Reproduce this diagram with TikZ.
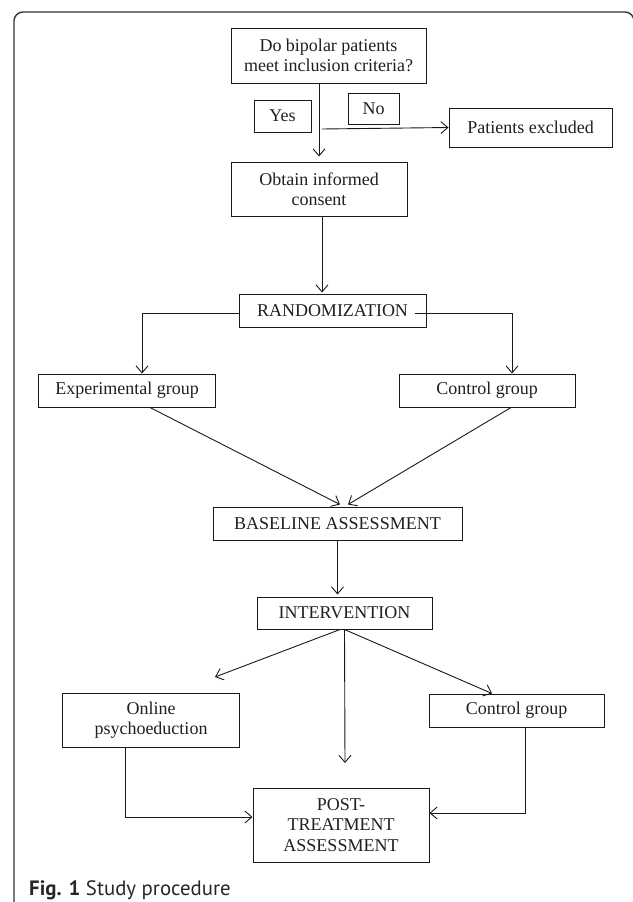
\documentclass[tikz,border=0pt]{standalone}
\usepackage{fontspec}
\setmainfont{Liberation Serif}
\newfontfamily\capfont{PT Sans}
\usetikzlibrary{arrows.meta}
\begin{document}
\begin{tikzpicture}[x=1bp,y=-1bp,
  box/.style={draw=black!90,line width=1bp,inner sep=0pt,align=center,
    font=\fontsize{18bp}{20.5bp}\selectfont,text=black!88},
  conn/.style={line width=0.9bp,draw=black!90,
    -{Straight Barb[length=7bp,width=12bp,line width=0.9bp]}},
  plain/.style={line width=0.9bp,draw=black!90}]
\useasboundingbox (0,0) rectangle (633,902);
% frame
\begin{scope}
\clip (0,0) rectangle (633,902);
\draw[line width=1.4bp,black!80,rounded corners=9bp] (14,920) -- (14,12) -- (634,12) -- (634,920);
\end{scope}
% nodes
\node[box,minimum width=195bp,minimum height=55bp] (q) at (328.5,55.5) {Do bipolar patients\\meet inclusion criteria?};
\node[box,minimum width=57bp,minimum height=32bp] (yes) at (282.5,116) {Yes};
\node[box,minimum width=51bp,minimum height=31bp] (no) at (373.5,108.5) {No};
\node[box,minimum width=163bp,minimum height=39bp] (excl) at (530.5,127.5) {Patients excluded};
\node[box,minimum width=176bp,minimum height=54bp] (consent) at (319,189) {Obtain informed\\consent};
\node[box,minimum width=187bp,minimum height=33bp] (rand) at (332.5,310.5) {RANDOMIZATION};
\node[box,minimum width=176bp,minimum height=33bp] (exp) at (127,390.5) {Experimental group};
\node[box,minimum width=176bp,minimum height=33bp] (ctla) at (487,390.5) {Control group};
\node[box,minimum width=249bp,minimum height=33bp] (base) at (337.5,523.5) {BASELINE ASSESSMENT};
\node[box,minimum width=175bp,minimum height=32bp] (interv) at (344.5,613) {INTERVENTION};
\node[box,minimum width=176bp,minimum height=54bp] (online) at (151,720) {Online\\psychoeduction};
\node[box,minimum width=175bp,minimum height=33bp] (ctlb) at (516.5,710.5) {Control group};
\node[box,minimum width=176bp,minimum height=74bp] (post) at (341,825) {POST-\\TREATMENT\\ASSESSMENT};
\node[anchor=base west,inner sep=0pt,font=\capfont\fontsize{20.8bp}{24bp}\selectfont,text=black!85] (cap) at (29,895) {\textbf{Fig. 1} Study procedure};
% free ends
\coordinate (nostart) at (322,129);
\coordinate (tipon) at (215,677);
\coordinate (tippost) at (345,763);
% connectors
\draw[conn] (q.south -| consent) -- ([yshift=5bp]consent.north);
\draw[conn] (nostart) -- (excl.west);
\draw[conn] ([xshift=3bp]consent.south) -- ([xshift=3bp,yshift=1bp]consent.south |- rand.north);
\draw[conn] ([yshift=-2.5bp]rand.west) -| ([xshift=15bp]exp.north);
\draw[conn] ([xshift=-12bp,yshift=-2.5bp]rand.east) -| ([xshift=25bp]ctla.north);
\draw[conn] ([xshift=23bp]exp.south) -- ([xshift=2.5bp,yshift=2bp]base.north);
\draw[conn] ([xshift=24bp]ctla.south) -- ([xshift=10.5bp,yshift=2bp]base.north);
\draw[conn] (base.south) -- ([yshift=2bp]base.south |- interv.north);
\draw[conn] ([xshift=-4.5bp]interv.south) -- (tipon);
\draw[conn] (interv.south) -- (tippost);
\draw[conn] (interv.south) -- ([xshift=-24.5bp]ctlb.north);
\draw[conn] ([xshift=-26bp]online.south) |- ([yshift=8bp]post.west);
\draw[conn] ([xshift=8.5bp]ctlb.south) |- ([yshift=12bp]post.east);
\end{tikzpicture}
\end{document}
